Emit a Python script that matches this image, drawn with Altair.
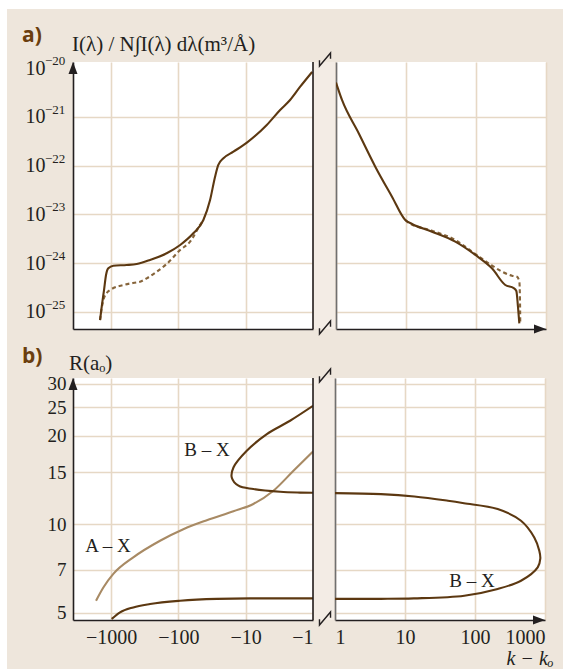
import altair as alt
import pandas as pd

# ----- (a) normalised line intensity -----
# wing with k - k0 < 0 (solid: full calculation, dashed: approximation)
a_left_k = [-1456, -1375, -1271, -1187, -1097, -925, -585, -415, -263, -149, -94, -60,
            -42.5, -33.8, -28.5, -25.5, -21.4, -15.2, -9.6, -4.86, -3.08, -2.19, -1.56, -1.03]
a_left_I = [6.85e-26, 1.29e-25, 2.82e-25, 5.74e-25, 7.87e-25, 8.91e-25, 9.2e-25, 9.66e-25,
            1.17e-24, 1.60e-24, 2.37e-24, 4.11e-24, 7.71e-24, 1.98e-23, 5.96e-23, 1.04e-22,
            1.42e-22, 1.94e-22, 2.97e-22, 6.85e-22, 1.39e-21, 2.23e-21, 4.12e-21, 8.38e-21]
a_left_dash_k = [-1456, -1375, -1271, -1159, -976, -656, -415, -371, -295, -209, -149, -94,
                 -67, -47.6, -42.5]
a_left_dash_I = [6.85e-26, 1.21e-25, 1.94e-25, 2.45e-25, 2.96e-25, 3.58e-25, 4.06e-25, 4.18e-25,
                 4.91e-25, 6.71e-25, 9.66e-25, 1.87e-24, 2.77e-24, 6.10e-24, 7.71e-24]
# wing with k - k0 > 0
a_right_k = [1, 1.218, 2.11, 3.64, 6.31, 9.77, 12.2, 23.5, 50.6, 97.8, 169, 262, 346, 377, 398, 416]
a_right_I = [5.06e-21, 2.23e-21, 4.63e-22, 9.57e-23, 2.32e-23, 7.71e-24, 6.38e-24, 4.44e-24,
             2.77e-24, 1.48e-24, 7.87e-25, 3.58e-25, 3.10e-25, 2.70e-25, 1.27e-25, 5.86e-26]
a_right_dash_k = [9.77, 10.9, 23.5, 50.6, 87.7, 152, 235, 327, 385, 416, 425, 429]
a_right_dash_I = [7.71e-24, 6.79e-24, 4.66e-24, 3.0e-24, 1.73e-24, 9.98e-25, 6.71e-25, 5.56e-25,
                  5.30e-25, 4.19e-25, 1.76e-25, 5.86e-26]
a_decades = [1e-25, 1e-24, 1e-23, 1e-22, 1e-21, 1e-20]
a_exponents = ["−25", "−24", "−23", "−22", "−21", "−20"]

# ----- (b) Condon points R(k - k0) -----
bx_low_k = [-976, -735, -467, -263, -94.4, -26.9, -8.6, -1]
bx_low_R = [4.76, 5.01, 5.21, 5.35, 5.49, 5.57, 5.59, 5.59]
bx_loop_k = [-1, -1.56, -3.08, -7.69, -12.8, -16.1, -15.2, -9.64, -4.85, -2.19, -1]
bx_loop_R = [12.78, 12.8, 12.88, 13.16, 13.51, 14.41, 15.58, 17.76, 20.24, 22.47, 25.25]
bx_red_k = [1, 4.54, 13.4, 70.3, 211, 454, 787, 857, 829, 703, 454, 211, 69.6, 41.1, 13.6, 4.54, 1]
bx_red_R = [5.57, 5.57, 5.59, 5.71, 6.02, 6.42, 7.13, 7.63, 8.12, 9.01, 10.27, 11.25, 11.78,
            12.01, 12.42, 12.65, 12.75]
ax_k = [-1671, -1301, -925, -467, -187, -84.4, -37.8, -15.2, -7.69, -3.87, -1.95, -1]
ax_R = [5.49, 6.09, 6.77, 7.71, 8.78, 9.61, 10.31, 11.06, 11.71, 12.99, 15.19, 17.66]
b_ticks = [5, 7, 10, 15, 20, 25, 30]
k_ticks = [1, 10, 100, 1000]

left_labels = ["A – X", "B – X"]
left_label_k = [-1108, -37.5]
left_label_R = [8.45, 17.8]
right_labels = ["B – X"]
right_label_k = [90.6]
right_label_R = [6.42]

# ----- styling -----
FONT = "Liberation Serif"
INK = "#231f20"
GRID = "#E6D8C5"
BG = "#EEE6DC"
STRIP = "#F3ECE5"
DARK = "#5C3811"
TAN = "#A88A64"
DASH = "#86643A"
LABEL_BROWN = "#6B3E0E"
PAGE = "#FFFFFF"
BREAK_SHAPE = "M-0.85,0.1L-0.85,1L0.85,-1L0.85,-0.1"

W_L, W_M, W_R = 240, 21, 210
H_A, H_B = 267, 242
# page margins around the beige panel
M_LEFT, M_TOP = 7, 9
LEFT_EXT, TOP_EXT = 73, 62        # room left of / above the first plot area
GAP_A, GAP_B = 8, 40              # split of the space between the two rows
RIGHT_EXT = 227                   # right cell's extent up to the page edge
BOTTOM_EXT = 669 - (TOP_EXT + H_A + GAP_A + GAP_B)     # lower row's total height

xL = alt.Scale(type="log", domain=[1, 3673], reverse=True, nice=False)
xR = alt.Scale(type="log", domain=[1, 1000], nice=False)
yA = alt.Scale(type="log", domain=[4.48e-26, 1.34e-20], nice=False)
yB = alt.Scale(type="log", domain=[4.72, 31.4], nice=False)

base_axis = dict(domainColor=INK, domainWidth=1.6, gridColor=GRID, gridWidth=1.6,
                 ticks=False, labelFont=FONT, labelColor=INK, labelOverlap=False)
no_top_grid = {"condition": {"test": "datum.value > 5e-21", "value": 0}, "value": 1}

xa_axis = alt.Axis(values=k_ticks, labels=False, title=None, **base_axis)
yaL_axis = alt.Axis(values=a_decades, labelExpr="'10'", labelFontSize=20, labelPadding=28,
                    gridOpacity=no_top_grid, title=None, **base_axis)
yaR_axis = alt.Axis(values=a_decades, labels=False, gridOpacity=no_top_grid, title=None,
                    **{**base_axis, "domainColor": "#707070"})
# trailing en space keeps the digits (not the minus sign) centred on the grid line
xbL_axis = alt.Axis(values=k_ticks, labelExpr="datum.value == 1 ? '−1' : '−' + datum.value + '\u2002'",
                    labelFontSize=20, labelPadding=7, labelFlush=True, title=None, **base_axis)
ybL_axis = alt.Axis(values=b_ticks, labelExpr="'' + datum.value", labelFontSize=19,
                    labelPadding=7, title=None, **base_axis)
xbR_axis = alt.Axis(values=k_ticks, labelExpr="'' + datum.value", labelFontSize=20,
                    labelPadding=7, labelFlush=True,
                    title="k − kₒ", titleFont=FONT, titleFontSize=20, titleFontStyle="italic",
                    titleFontWeight="normal", titleColor=INK, titleAlign="right",
                    titleX=218, titleY=38, titleBaseline="middle", **base_axis)
ybR_axis = alt.Axis(values=b_ticks, labels=False, title=None,
                    **{**base_axis, "domainColor": "#707070"})


def series(k, v, col):
    return pd.DataFrame({"k": k, col: v, "i": list(range(len(k)))})


def curve(df, col, xscale, yscale, xaxis, yaxis, color, neg, interp, dash=None, width=2.1):
    ch = alt.Chart(df)
    xfield = "k"
    if neg:
        ch = ch.transform_calculate(nk="-datum.k")
        xfield = "nk"
    kw = dict(color=color, strokeWidth=width, interpolate=interp, clip=True)
    if dash:
        kw["strokeDash"] = dash
    return ch.mark_line(**kw).encode(
        x=alt.X(f"{xfield}:Q", scale=xscale, axis=xaxis),
        y=alt.Y(f"{col}:Q", scale=yscale, axis=yaxis),
        order="i:Q",
    )


one = pd.DataFrame({"n": [0]})


def edge_rule(xscale):
    return alt.Chart(one).mark_rule(color=INK, strokeWidth=1.6).encode(
        x=alt.XDatum(1, type="quantitative", scale=xscale))


def up_arrow():
    return alt.Chart(one).mark_point(shape="M0,-1L0.75,1L-0.75,1Z", filled=True, size=144,
                                     color=INK, opacity=1).encode(
        x=alt.value(0), y=alt.value(6))


def right_arrow(w, h):
    return alt.Chart(one).mark_point(shape="M1,0L-1,-0.75L-1,0.75Z", filled=True, size=144,
                                     color=INK, opacity=1).encode(
        x=alt.value(w - 6), y=alt.value(h))


def page_band(x, x2, y, y2):
    # white page margin outside the beige panel
    return alt.Chart(one).mark_rect(color=PAGE, opacity=1).encode(
        x=alt.value(x), x2=alt.value(x2), y=alt.value(y), y2=alt.value(y2))


def caption(text, x, y, size, font=FONT, color=INK, weight="normal", style="normal"):
    return alt.Chart(pd.DataFrame({"t": [text]})).mark_text(
        align="left", baseline="middle", font=font, fontSize=size, color=color,
        fontWeight=weight, fontStyle=style).encode(
        x=alt.value(x), y=alt.value(y), text="t:N")


def break_mark(y):
    return alt.Chart(one).mark_point(shape=BREAK_SHAPE, filled=False, size=169, color=INK,
                                     strokeWidth=1.4, opacity=1).encode(
        x=alt.value(W_M / 2 + 0.5), y=alt.value(y))


def strip(h, top_band):
    layers = [break_mark(-2.5), break_mark(h - 1.5)]
    if top_band:
        layers.append(page_band(0, W_M, -TOP_EXT, -TOP_EXT + M_TOP))
    return alt.layer(*layers).properties(
        width=W_M, height=h, view=alt.ViewBackground(fill=STRIP, stroke=None))


# ----- panel (a) -----
exp_df = pd.DataFrame({"v": a_decades, "e": a_exponents})
exponents = alt.Chart(exp_df).mark_text(align="left", baseline="middle", dy=-7, fontSize=13,
                                        font=FONT, color=INK).encode(
    x=alt.value(-28), y=alt.Y("v:Q", scale=yA), text="e:N")

a_left = alt.layer(
    curve(series(a_left_dash_k, a_left_dash_I, "I"), "I", xL, yA, xa_axis, yaL_axis, DASH,
          True, "monotone", dash=[4, 3]),
    curve(series(a_left_k, a_left_I, "I"), "I", xL, yA, xa_axis, yaL_axis, DARK,
          True, "monotone"),
    edge_rule(xL),
    up_arrow(),
    exponents,
    caption("a)", -51, -26, 21, font="Open Sans", color=LABEL_BROWN, weight="bold"),
    caption("I(λ) / N∫I(λ) dλ(m³/Å)", -1, -17, 21),
    page_band(-LEFT_EXT, W_L + 1, -TOP_EXT, -TOP_EXT + M_TOP),
    page_band(-LEFT_EXT, -LEFT_EXT + M_LEFT, -TOP_EXT, H_A + GAP_A),
).properties(width=W_L, height=H_A)

a_right = alt.layer(
    curve(series(a_right_dash_k, a_right_dash_I, "I"), "I", xR, yA, xa_axis, yaR_axis, DASH,
          False, "monotone", dash=[4, 3]),
    curve(series(a_right_k, a_right_I, "I"), "I", xR, yA, xa_axis, yaR_axis, DARK,
          False, "monotone"),
    right_arrow(W_R, H_A),
    page_band(-1, RIGHT_EXT, -TOP_EXT, -TOP_EXT + M_TOP),
).properties(width=W_R, height=H_A)

# ----- panel (b) -----
left_lab_df = pd.DataFrame({"k": left_label_k, "R": left_label_R, "t": left_labels})
right_lab_df = pd.DataFrame({"k": right_label_k, "R": right_label_R, "t": right_labels})

b_left = alt.layer(
    curve(series(ax_k, ax_R, "R"), "R", xL, yB, xbL_axis, ybL_axis, TAN, True, "monotone"),
    curve(series(bx_low_k, bx_low_R, "R"), "R", xL, yB, xbL_axis, ybL_axis, DARK, True,
          "monotone"),
    curve(series(bx_loop_k, bx_loop_R, "R"), "R", xL, yB, xbL_axis, ybL_axis, DARK, True,
          "catmull-rom"),
    alt.Chart(left_lab_df).transform_calculate(nk="-datum.k").mark_text(
        font=FONT, fontSize=19, color=INK, baseline="middle").encode(
        x=alt.X("nk:Q", scale=xL), y=alt.Y("R:Q", scale=yB), text="t:N"),
    edge_rule(xL),
    up_arrow(),
    caption("b)", -51, -21, 21, font="Open Sans", color=LABEL_BROWN, weight="bold"),
    caption("R(aₒ)", -4, -14, 21),
    page_band(-LEFT_EXT, -LEFT_EXT + M_LEFT, -GAP_B - 1, BOTTOM_EXT),
).properties(width=W_L, height=H_B)

b_right = alt.layer(
    curve(series(bx_red_k, bx_red_R, "R"), "R", xR, yB, xbR_axis, ybR_axis, DARK, False,
          "catmull-rom"),
    alt.Chart(right_lab_df).mark_text(font=FONT, fontSize=19, color=INK,
                                      baseline="middle").encode(
        x=alt.X("k:Q", scale=xR), y=alt.Y("R:Q", scale=yB), text="t:N"),
    right_arrow(W_R, H_B),
).properties(width=W_R, height=H_B)

row_a = alt.hconcat(a_left, strip(H_A, True), a_right, spacing=0)
row_b = alt.hconcat(b_left, strip(H_B, False), b_right, spacing=0)

chart = alt.vconcat(row_a, row_b, spacing=0).properties(
    padding={"left": 0, "top": 0, "right": 0, "bottom": 0}
).configure(background=BG, font=FONT).configure_view(stroke=None, fill="white")

chart.save("out.html", embed_options={"renderer": "svg", "actions": False})
